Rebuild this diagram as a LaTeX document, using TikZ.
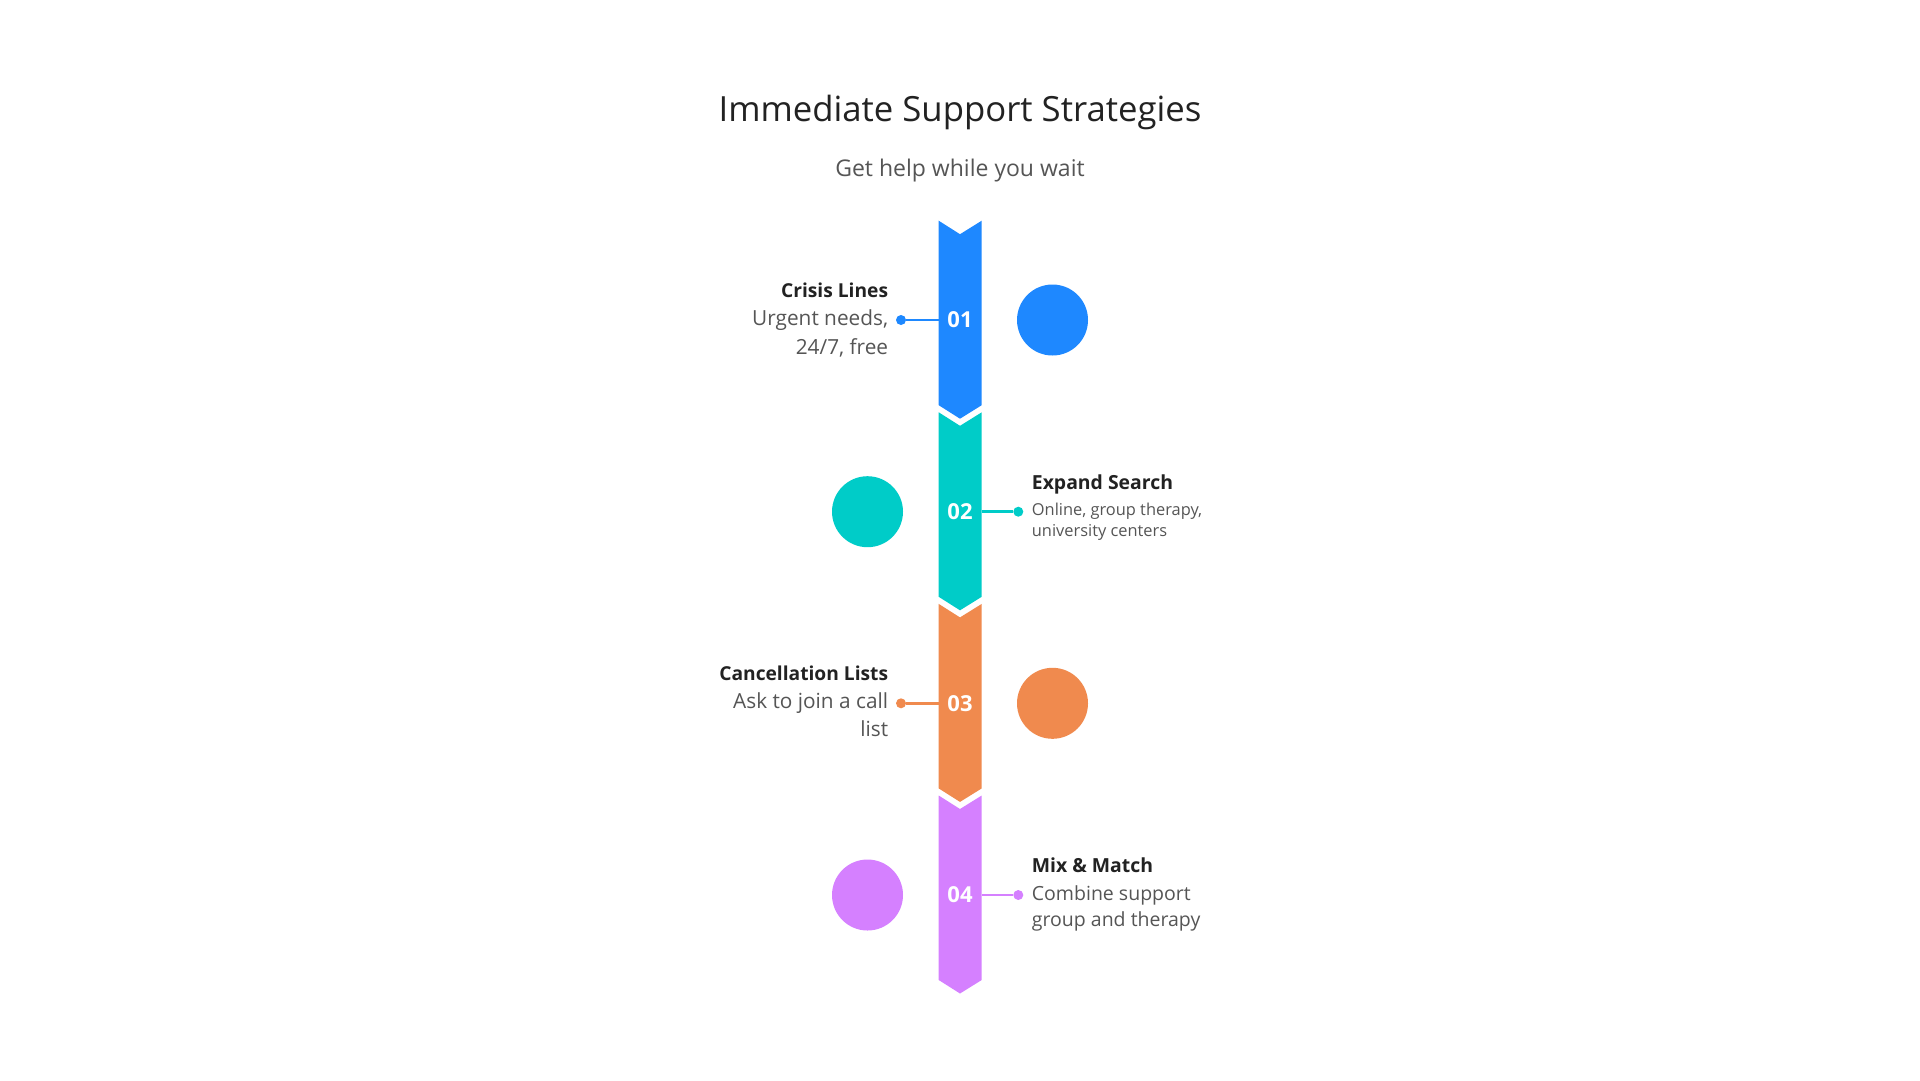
\documentclass[tikz,border=0pt]{standalone}
\usepackage{fontspec}
\setmainfont{Open Sans}
\definecolor{cblue}{HTML}{1E88FF}
\definecolor{cteal}{HTML}{00CCC8}
\definecolor{corange}{HTML}{F08A4E}
\definecolor{cpurple}{HTML}{D580FF}
\definecolor{ctitle}{HTML}{222222}
\definecolor{cbody}{HTML}{555555}
\tikzset{
  numlabel/.style={text=white, font=\fontsize{22}{26}\selectfont\bfseries, inner sep=0pt},
  bigdot/.style={circle, minimum size=71pt, inner sep=0pt, fill=#1},
  smalldot/.style={circle, minimum size=10pt, inner sep=0pt, fill=#1},
  link/.style={draw=#1, line width=2.6pt},
  headL/.style={anchor=base east, inner sep=0pt, text=ctitle, font=\fontsize{19.2}{23}\selectfont\bfseries},
  headR/.style={anchor=base west, inner sep=0pt, text=ctitle, font=\fontsize{19.4}{23}\selectfont\bfseries},
  bodyL/.style={anchor=base east, inner sep=0pt, text=cbody, font=\fontsize{20.8}{24}\selectfont},
  bodyR/.style={anchor=base west, inner sep=0pt, text=cbody, font=\fontsize{19.5}{23}\selectfont},
  bodyRs/.style={anchor=base west, inner sep=0pt, text=cbody, font=\fontsize{16.4}{19}\selectfont},
}
\newcommand{\chev}[2]{% #1 top y, #2 colour
  \fill[#2] (938.7,#1) -- (960,#1+13.5) -- (981.7,#1) -- (981.7,#1+184.5)
    -- (960,#1+198) -- (938.7,#1+184.5) -- cycle;}
\begin{document}
\begin{tikzpicture}[x=1pt,y=-1pt]
\useasboundingbox[fill=white] (0,0) rectangle (1920,1080);
\node[anchor=base, inner sep=0pt, text=ctitle, font=\fontsize{34.7}{42}\selectfont] (title) at (960,121.7) {Immediate Support Strategies};
\node[anchor=base, inner sep=0pt, text=cbody, font=\fontsize{23}{27}\selectfont] (subtitle) at (960,176) {Get help while you wait};

\chev{220.7}{cblue}
\chev{412.3}{cteal}
\chev{603.9}{corange}
\chev{795.5}{cpurple}

% item 1
\node[numlabel] (n1) at (960,320) {01};
\node[bigdot=cblue] (c1) at (1052.5,320) {};
\node[smalldot=cblue] (d1) at (901,320) {};
\coordinate (e1) at (938.7,320);
\draw[link=cblue] (d1) -- (e1);
\node[headL] (h1) at (888.3,297.3) {Crisis Lines};
\node[bodyL] (b1a) at (888.3,325) {Urgent needs,};
\node[bodyL] (b1b) at (888.3,354) {24/7, free};

% item 2
\node[numlabel] (n2) at (960,511.7) {02};
\node[bigdot=cteal] (c2) at (867.5,511.7) {};
\node[smalldot=cteal] (d2) at (1018.3,511.7) {};
\coordinate (e2) at (981.7,511.7);
\draw[link=cteal] (e2) -- (d2);
\node[headR] (h2) at (1031.7,489.3) {Expand Search};
\node[bodyRs] (b2a) at (1031.7,515) {Online, group therapy,};
\node[bodyRs] (b2b) at (1031.7,536.7) {university centers};

% item 3
\node[numlabel] (n3) at (960,703.3) {03};
\node[bigdot=corange] (c3) at (1052.5,703.3) {};
\node[smalldot=corange] (d3) at (901,703.3) {};
\coordinate (e3) at (938.7,703.3);
\draw[link=corange] (d3) -- (e3);
\node[headL] (h3) at (888.3,680.7) {Cancellation Lists};
\node[bodyL] (b3a) at (888.3,708.3) {Ask to join a call};
\node[bodyL] (b3b) at (888.3,736.7) {list};

% item 4
\node[numlabel] (n4) at (960,895) {04};
\node[bigdot=cpurple] (c4) at (867.5,895) {};
\node[smalldot=cpurple] (d4) at (1018.3,895) {};
\coordinate (e4) at (981.7,895);
\draw[link=cpurple] (e4) -- (d4);
\node[headR] (h4) at (1031.7,872.7) {Mix \& Match};
\node[bodyR] (b4a) at (1031.7,900) {Combine support};
\node[bodyR] (b4b) at (1031.7,926.7) {group and therapy};
\end{tikzpicture}
\end{document}
